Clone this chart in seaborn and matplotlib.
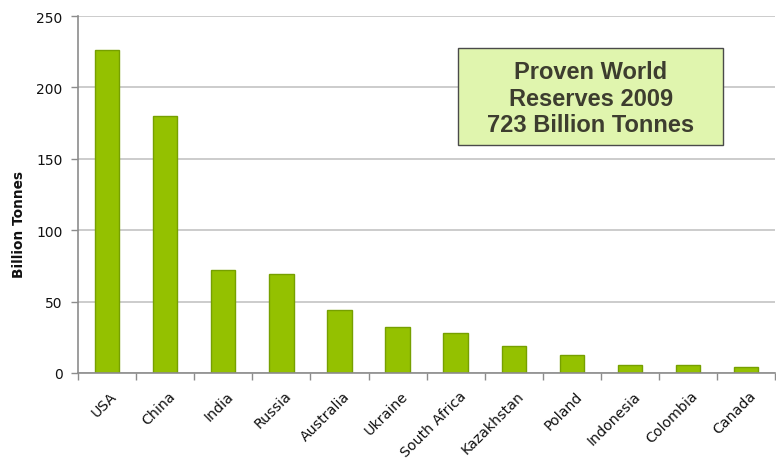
import matplotlib
matplotlib.use("Agg")
import matplotlib.pyplot as plt
import matplotlib.transforms as mtransforms
from matplotlib.patches import Rectangle
import seaborn as sns
import pandas as pd
import numpy as np

# Proven coal reserves by country, billion tonnes
countries = ["USA", "China", "India", "Russia", "Australia", "Ukraine",
             "South Africa", "Kazakhstan", "Poland", "Indonesia", "Colombia", "Canada"]
reserves = [226, 180, 72, 69, 44, 32, 28, 19, 12.6, 5.6, 5.3, 4.4]
y_ticks = [0, 50, 100, 150, 200, 250]
box_lines = ["Proven World", "Reserves 2009", "723 Billion Tonnes"]

df = pd.DataFrame({"country": countries, "reserves": reserves})

sns.set_theme(style="white")
plt.rcParams["font.family"] = ["DejaVu Sans"]

fig = plt.figure(figsize=(7.76, 4.6), dpi=100)
ax = fig.add_axes([0.1005, 0.187, 0.8985, 0.776])

sns.barplot(data=df, x="country", y="reserves", ax=ax, color="#94c100",
            width=0.42, edgecolor="#76a000", linewidth=1.0, saturation=1)

ax.set_xlim(-0.5, len(countries) - 0.5)
ax.set_ylim(0, 250)
ax.set_yticks(y_ticks)
ax.yaxis.grid(True, color="#c4c4c4", linewidth=1.2)
ax.set_axisbelow(True)

for side in ["top", "right"]:
    ax.spines[side].set_visible(False)
for side in ["left", "bottom"]:
    ax.spines[side].set_color("#8c8c8c")
    ax.spines[side].set_linewidth(1.2)

# category separators as tick marks below the axis
ax.set_xticks(np.arange(-0.5, len(countries) + 0.5, 1.0), minor=True)
ax.tick_params(axis="x", which="minor", length=5, color="#8c8c8c", width=1.0, bottom=True)
ax.tick_params(axis="x", which="major", length=0, pad=11)
ax.tick_params(axis="y", which="major", length=5, color="#8c8c8c", width=1.0, left=True,
               labelsize=10, labelcolor="#111111", pad=6)

ax.set_xticks(range(len(countries)))
ax.set_xticklabels(countries, rotation=45, ha="right", rotation_mode="anchor",
                   fontsize=10.2, color="#111111")
shift = mtransforms.ScaledTranslation(3 / 100, 0, fig.dpi_scale_trans)
for lbl in ax.get_xticklabels():
    lbl.set_transform(lbl.get_transform() + shift)

ax.set_xlabel("")
ax.set_ylabel("Billion Tonnes", fontsize=9.8, fontweight="bold", color="#111111")
ax.yaxis.set_label_coords(-0.075, 0.42)

# summary box
ax.add_patch(Rectangle((0.5452, 0.6387), 0.3802, 0.2717, transform=ax.transAxes,
                       facecolor="#e0f5ae", edgecolor="#4a4a4a", linewidth=1.0,
                       zorder=5, clip_on=False))
ax.text(0.7353, 0.770, "\n".join(box_lines), transform=ax.transAxes,
        ha="center", va="center", fontsize=17, fontweight="bold",
        family=["Liberation Sans", "DejaVu Sans"], color="#3d3d2f",
        linespacing=1.18, zorder=6)

fig.savefig("out.png", dpi=100, facecolor="white")
